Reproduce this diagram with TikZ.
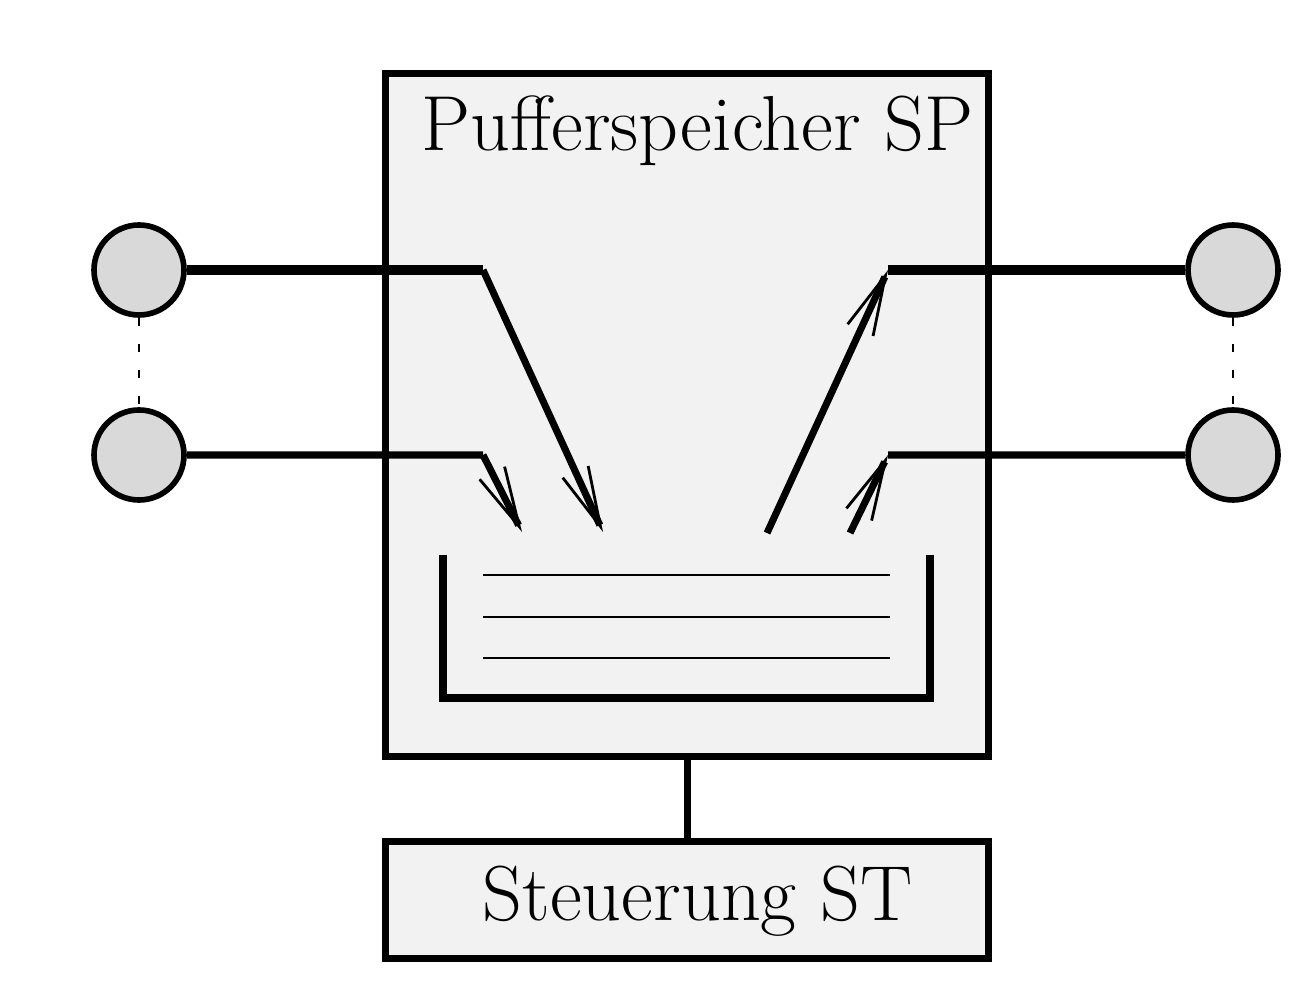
\documentclass[tikz,border=0pt]{standalone}
\usepackage{tikz}
\usetikzlibrary{positioning, arrows.meta}

\begin{document}
\begin{tikzpicture}[node distance=1.85cm, on grid,
  port/.style={circle, draw, line width=1.6pt, fill=black!15, minimum size=0.9cm, inner sep=0pt},
  block/.style={draw, line width=2pt, fill=black!5, minimum width=6.03cm, inner sep=0pt},
  pipe/.style={line width=2pt},
  mainpipe/.style={line width=2.8pt},
  flow/.style={line width=2pt, -{Straight Barb[length=0.6cm, width=0.28cm, line width=0.8pt]}},
  lbl/.style={font=\fontsize{22.2}{26}\selectfont, anchor=base}]
  \useasboundingbox (0,0) rectangle (13.09,-10);
  % boxes
  \node[block, minimum height=6.83cm] (sp) at (6.87,-4.15) {};
  \node[block, minimum height=1.17cm] (st) at (6.87,-9.00) {};
  \node[lbl] (sptxt) at (6.975,-1.51) {Pufferspeicher SP};
  \node[lbl] (sttxt) at (6.975,-9.20) {Steuerung ST};
  \draw[pipe] (sp) -- (st);
  % ports
  \node[port] (in1) at (1.39,-2.70) {};
  \node[port] (in2) [below=of in1] {};
  \node[port] (out1) at (12.33,-2.70) {};
  \node[port] (out2) [below=of out1] {};
  \draw[line width=0.7pt, dash pattern=on 0.08cm off 0.18cm] (in1) -- (in2);
  \draw[line width=0.7pt, dash pattern=on 0.08cm off 0.18cm] (out1) -- (out2);
  % knees and ends of the flows
  \coordinate (in1k) at (4.83,-2.70);
  \coordinate (in2k) at (4.83,-4.55);
  \coordinate (in1e) at (6.03,-5.32);
  \coordinate (in2e) at (5.22,-5.32);
  \coordinate (out1k) at (8.88,-2.70);
  \coordinate (out2k) at (8.88,-4.55);
  \coordinate (out1s) at (7.67,-5.33);
  \coordinate (out2s) at (8.50,-5.33);
  \draw[mainpipe] (in1) -- (in1k);
  \draw[flow] (in1k) -- (in1e);
  \draw[pipe] (in2) -- (in2k);
  \draw[flow] (in2k) -- (in2e);
  \draw[flow] (out1s) -- (out1k);
  \draw[mainpipe] (out1k) -- (out1);
  \draw[flow] (out2s) -- (out2k);
  \draw[pipe] (out2k) -- (out2);
  % tank
  \draw[line width=2.3pt] (4.43,-5.55) -- (4.43,-6.98) -- (9.30,-6.98) -- (9.30,-5.55);
  \foreach \y in {-5.75,-6.17,-6.58}
    \draw[line width=0.7pt] (4.83,\y) -- (8.90,\y);
\end{tikzpicture}
\end{document}
